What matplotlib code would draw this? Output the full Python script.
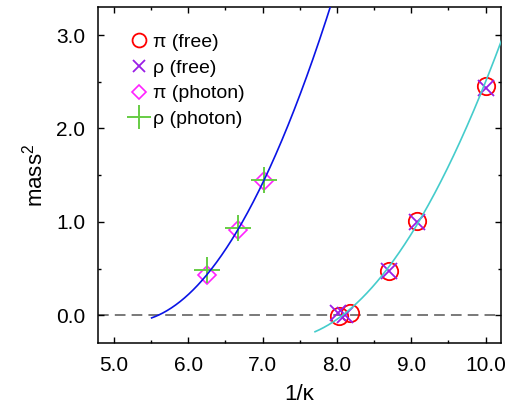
import numpy as np
import matplotlib
matplotlib.use("Agg")
import matplotlib.pyplot as plt

# Measured points: 1/kappa versus squared mass
pi_free_x = [8.03, 8.17, 8.70, 9.08, 10.00]
pi_free_y = [-0.01, 0.025, 0.475, 1.01, 2.45]
rho_free_x = [8.01, 8.11, 8.70, 9.08, 10.00]
rho_free_y = [0.02, 0.00, 0.47, 1.00, 2.43]
pi_photon_x = [6.248, 6.665, 7.02]
pi_photon_y = [0.436, 0.911, 1.44]
rho_photon_x = [6.248, 6.665, 7.02]
rho_photon_y = [0.48, 0.936, 1.45]

# Quadratic fit parameters (highest power first) and the ranges they cover
photon_fit = [0.4596, -4.7816, 12.366]
photon_fit_range = [5.507, 8.0]
free_fit = [0.3586, -5.1823, 18.4646]
free_fit_range = [7.705, 10.25]

x_ticks = [5.0, 6.0, 7.0, 8.0, 9.0, 10.0]
y_ticks = [0.0, 1.0, 2.0, 3.0]

plt.rcParams['font.family'] = ['Liberation Sans', 'DejaVu Sans']
plt.rcParams['mathtext.fontset'] = 'custom'
plt.rcParams['mathtext.rm'] = 'Liberation Sans'

fig = plt.figure(figsize=(5.23, 4.07), dpi=100)
ax = fig.add_axes([0.188, 0.1565, 0.769, 0.8255])

ax.axhline(0.0, color='#555555', lw=1.1, dashes=(7, 4), zorder=1)

ax.plot(pi_free_x, pi_free_y, ls='none', marker='o', ms=12.5, mfc='none',
        mec='#ff0000', mew=1.3, label='π (free)', zorder=3)
ax.plot(rho_free_x, rho_free_y, ls='none', marker='x', ms=11, mec='#9a1ee6',
        mew=1.3, label='ρ (free)', zorder=4)
ax.plot(pi_photon_x, pi_photon_y, ls='none', marker='D', ms=9, mfc='none',
        mec='#ff22ff', mew=1.2, label='π (photon)', zorder=3)
ax.plot(rho_photon_x, rho_photon_y, ls='none', marker='+', ms=18.5,
        mec='#66cc44', mew=1.4, label='ρ (photon)', zorder=4)

xp = np.linspace(photon_fit_range[0], photon_fit_range[1], 300)
ax.plot(xp, np.polyval(photon_fit, xp), color='#0a14e6', lw=1.2, zorder=5)
xf = np.linspace(free_fit_range[0], free_fit_range[1], 300)
ax.plot(xf, np.polyval(free_fit, xf), color='#45cccc', lw=1.2, zorder=5)

ax.set_xlim(4.79, 10.2)
ax.set_ylim(-0.30, 3.297)
ax.set_xticks(x_ticks)
ax.set_xticklabels([f'{v:.1f}' for v in x_ticks])
ax.set_yticks(y_ticks)
ax.set_yticklabels([f'{v:.1f}' for v in y_ticks])
ax.set_xticks(np.arange(5.5, 10.2, 1.0), minor=True)
ax.set_yticks(np.arange(-0.5, 3.3, 1.0)[1:], minor=True)

ax.tick_params(which='both', direction='in', top=True, right=True,
               labelsize=15, width=1.0)
ax.tick_params(axis='x', pad=9.5)
ax.tick_params(axis='y', pad=9.5)
ax.tick_params(which='major', length=4.3)
ax.tick_params(which='minor', length=2.4)
for s in ax.spines.values():
    s.set_linewidth(1.1)

ax.set_xlabel('1/κ', fontsize=16, labelpad=6)
ax.set_ylabel('mass$^2$', fontsize=16, labelpad=6)

leg = ax.legend(loc='upper left', bbox_to_anchor=(0.077, 0.923), frameon=False,
                fontsize=14, numpoints=1, handlelength=1.0, handletextpad=0.2,
                borderpad=0, borderaxespad=0, labelspacing=0.42)
for h, size in zip(leg.legend_handles, [10, 9, 7, 17]):
    h.set_markersize(size)

fig.savefig('out.png', dpi=100)
